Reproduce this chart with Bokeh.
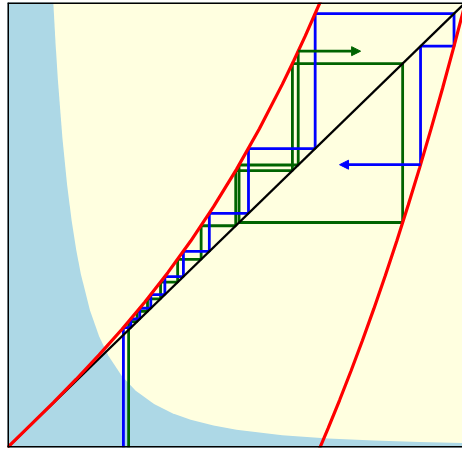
from bokeh.plotting import figure
from bokeh.models import Arrow, NormalHead, Span
from bokeh.embed import file_html
from bokeh.resources import INLINE

# Red map branches
red_x1 = [0, 0.05, 0.1, 0.15, 0.2, 0.25, 0.3, 0.35, 0.4, 0.45, 0.5, 0.55, 0.6, 0.625, 0.65, 0.6823, 0.69]
red_y1 = [0, 0.0501, 0.101, 0.1534, 0.208, 0.2656, 0.327, 0.3929, 0.464, 0.5411, 0.625, 0.7164, 0.816, 0.8691, 0.9246, 1.0, 1.0185]
red_x2 = [0.675, 0.6823, 0.7, 0.725, 0.75, 0.775, 0.8, 0.825, 0.85, 0.875, 0.9, 0.925, 0.95, 0.975, 1.0]
red_y2 = [-0.0175, 0.0, 0.043, 0.1061, 0.1719, 0.2405, 0.312, 0.3865, 0.4641, 0.5449, 0.629, 0.7165, 0.8074, 0.9019, 1.0]

# Boundary between blue and yellow regions
bound_x = [0.1, 0.105, 0.11, 0.12, 0.13, 0.14, 0.15, 0.16, 0.18, 0.2, 0.22, 0.25, 0.28, 0.32, 0.36, 0.4, 0.45, 0.5, 0.6, 0.7, 0.8, 0.9, 1.0]
bound_y = [1.0, 0.907, 0.8264, 0.6944, 0.5917, 0.5102, 0.4444, 0.3906, 0.3086, 0.25, 0.2066, 0.16, 0.1276, 0.0977, 0.0772, 0.0625, 0.0494, 0.04, 0.0278, 0.0204, 0.0156, 0.0123, 0.01]

# Cobweb orbits
blue_orbit = [0.2531, 0.2693, 0.2888, 0.3129, 0.3436, 0.3841, 0.4407, 0.5262, 0.6718, 0.975, 0.9019, 0.6355]
green_orbit = [0.2645, 0.2830, 0.3057, 0.3342, 0.3715, 0.4228, 0.4983, 0.6221, 0.8628, 0.5056, 0.6348, 0.8906]
blue_arrow_tip = 0.725
green_arrow_tip = 0.771

diag = [0, 1]


def cobweb(orbit):
    xs, ys = [orbit[0]], [0.0]
    n = len(orbit)
    for i in range(n - 1):
        xs.append(orbit[i]); ys.append(orbit[i + 1])
        if i < n - 2:
            xs.append(orbit[i + 1]); ys.append(orbit[i + 1])
    return xs, ys


p = figure(width=462, height=454, x_range=(0, 0.9935), y_range=(0, 1),
           output_backend="svg", toolbar_location=None,
           min_border_left=7, min_border_top=2, min_border_bottom=7, min_border_right=0)
p.axis.visible = False
p.grid.visible = False
p.outline_line_color = None
p.background_fill_color = "#add8e6"
p.border_fill_color = "white"

p.patch(bound_x + [1.0], bound_y + [1.0], fill_color="#ffffe0", line_color=None)

gx, gy = cobweb(green_orbit)
p.line(gx, gy, line_color="#006400", line_width=2.8)
bx, by = cobweb(blue_orbit)
p.line(bx, by, line_color="#0000ff", line_width=2.8)

p.line(diag, diag, line_color="black", line_width=2.3)

p.line(red_x1, red_y1, line_color="#ff0000", line_width=3.2)
p.line(red_x2, red_y2, line_color="#ff0000", line_width=3.2)

p.add_layout(Arrow(end=NormalHead(size=9, fill_color="#006400", line_color="#006400"),
                   x_start=green_orbit[-2], y_start=green_orbit[-1],
                   x_end=green_arrow_tip, y_end=green_orbit[-1],
                   line_color="#006400", line_width=2.8))
p.add_layout(Arrow(end=NormalHead(size=9, fill_color="#0000ff", line_color="#0000ff"),
                   x_start=blue_orbit[-2], y_start=blue_orbit[-1],
                   x_end=blue_arrow_tip, y_end=blue_orbit[-1],
                   line_color="#0000ff", line_width=2.8))

p.add_layout(Span(location=0, dimension="height", line_color="black", line_width=3))
p.add_layout(Span(location=0, dimension="width", line_color="black", line_width=3))
p.add_layout(Span(location=1, dimension="width", line_color="black", line_width=3))

open("out.html", "w").write(file_html(p, INLINE))
